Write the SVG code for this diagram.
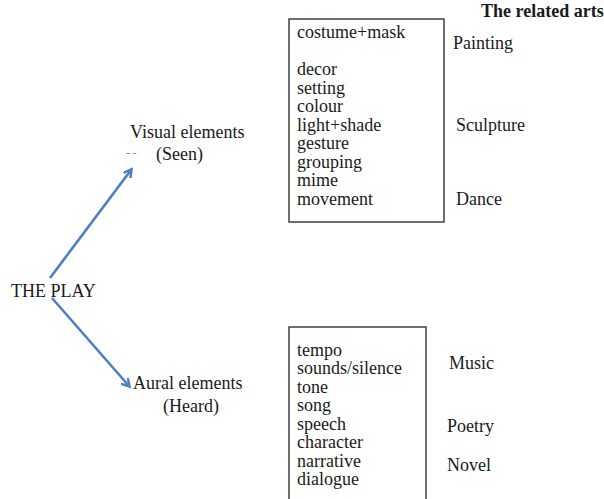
<svg xmlns="http://www.w3.org/2000/svg" width="604" height="499" viewBox="0 0 604 499">
<defs>
<style>
text{font-family:"Liberation Serif","Times New Roman",serif;font-size:18px;fill:#1a1a1a}
.b{font-weight:bold}
.box{fill:none;stroke:#333;stroke-width:1.4}
.arr{fill:none;stroke:#4a7fc4;stroke-width:2.6;marker-end:url(#ah)}
.dash{font-size:13px;fill:#8a80b8;letter-spacing:2px}
</style>
<marker id="ah" markerWidth="10" markerHeight="10" refX="7" refY="5" orient="auto" markerUnits="userSpaceOnUse">
<path d="M0,0.5 L8,5 L0,9.5" fill="none" stroke="#4a7fc4" stroke-width="2.4"/>
</marker>
</defs>
<rect width="604" height="499" fill="#fff"/>
<g id="connectors">
<line class="arr" x1="50" y1="278" x2="131" y2="170"/>
<line class="arr" x1="52" y1="298" x2="129" y2="386"/>
</g>
<g id="play"><text x="11" y="297">THE PLAY</text></g>
<g id="visual">
<text x="130" y="138">Visual elements</text>
<text class="dash" x="126" y="157">--</text>
<text x="156" y="160">(Seen)</text>
</g>
<g id="aural">
<text x="133" y="389">Aural elements</text>
<text x="163" y="412">(Heard)</text>
</g>
<g id="visualbox">
<rect class="box" x="289" y="19" width="155" height="203"/>
<text x="297" y="38">costume+mask</text>
<text x="297" y="75">decor</text>
<text x="297" y="93.5">setting</text>
<text x="297" y="112">colour</text>
<text x="297" y="130.5">light+shade</text>
<text x="297" y="149">gesture</text>
<text x="297" y="167.5">grouping</text>
<text x="297" y="186">mime</text>
<text x="297" y="204.5">movement</text>
</g>
<g id="auralbox">
<rect class="box" x="289" y="327" width="137" height="180"/>
<text x="297" y="356">tempo</text>
<text x="297" y="374">sounds/silence</text>
<text x="297" y="393">tone</text>
<text x="297" y="411">song</text>
<text x="297" y="430">speech</text>
<text x="297" y="448">character</text>
<text x="297" y="467">narrative</text>
<text x="297" y="485">dialogue</text>
</g>
<g id="arts">
<text class="b" x="481" y="17">The related arts</text>
<text x="453" y="49">Painting</text>
<text x="456" y="131">Sculpture</text>
<text x="456" y="205">Dance</text>
<text x="449" y="369">Music</text>
<text x="447" y="432">Poetry</text>
<text x="447" y="471">Novel</text>
</g>
</svg>
